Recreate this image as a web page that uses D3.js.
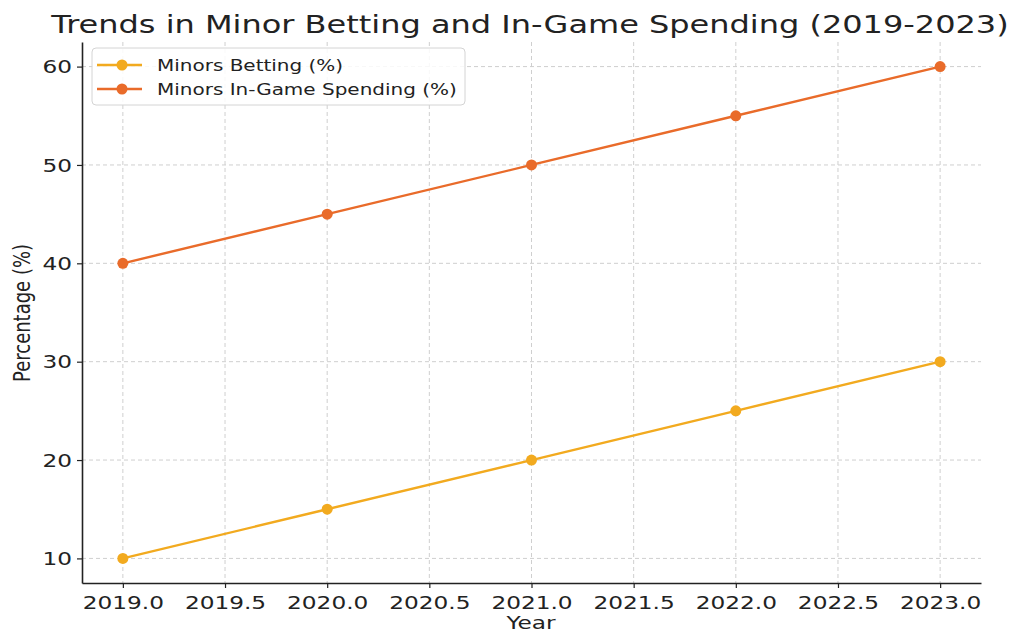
<!DOCTYPE html>
<html>
<head>
<meta charset="utf-8">
<script src="https://cdn.jsdelivr.net/npm/d3@7"></script>
<style>
  body { margin: 0; background: #fff; }
  text { font-family: "DejaVu Sans", sans-serif; fill: #222; }
</style>
</head>
<body>
<div id="chart"></div>
<script>
// data
const years = [2019, 2020, 2021, 2022, 2023]
const bettingPct = [10, 15, 20, 25, 30]
const spendingPct = [40, 45, 50, 55, 60]
const xTicks = [2019.0, 2019.5, 2020.0, 2020.5, 2021.0, 2021.5, 2022.0, 2022.5, 2023.0]
const yTicks = [10, 20, 30, 40, 50, 60]
const seriesNames = ["Minors Betting (%)", "Minors In-Game Spending (%)"]
const seriesColors = ["#f2aa1f", "#e96b2a"]

// picture looks stretched sideways, so text gets the same stretch
const sx = 1.29

const W = 1015, H = 633
const plot = { left: 82, right: 981, top: 42, bottom: 583 }

const svg = d3.select("#chart").append("svg")
  .attr("width", W).attr("height", H)

const xScale = d3.scaleLinear().domain([2018.8, 2023.2]).range([plot.left, plot.right])
const yScale = d3.scaleLinear().domain([7.5, 62.5]).range([plot.bottom, plot.top])

// grid
svg.append("g").selectAll("line").data(xTicks).join("line")
  .attr("x1", d => xScale(d)).attr("x2", d => xScale(d))
  .attr("y1", plot.top).attr("y2", plot.bottom)
  .attr("stroke", "#cfcfcf").attr("stroke-width", 1).attr("stroke-dasharray", "4,3")
svg.append("g").selectAll("line").data(yTicks).join("line")
  .attr("x1", plot.left).attr("x2", plot.right)
  .attr("y1", d => yScale(d)).attr("y2", d => yScale(d))
  .attr("stroke", "#cfcfcf").attr("stroke-width", 1).attr("stroke-dasharray", "4,3")

// axes: only left and bottom spines
const xAxis = svg.append("g")
  .attr("transform", "translate(0," + plot.bottom + ")")
  .call(d3.axisBottom(xScale).tickValues(xTicks).tickFormat(d3.format(".1f")).tickSize(5).tickSizeOuter(0))
const yAxis = svg.append("g")
  .attr("transform", "translate(" + plot.left + ",0)")
  .call(d3.axisLeft(yScale).tickValues(yTicks).tickSize(5).tickSizeOuter(0))

;[xAxis, yAxis].forEach(ax => {
  ax.select(".domain").attr("stroke", "#222").attr("stroke-width", 1.6)
  ax.selectAll(".tick line").attr("stroke", "#222").attr("stroke-width", 1.2)
  ax.selectAll(".tick text").attr("font-size", 18).attr("fill", "#222")
    .attr("font-family", "DejaVu Sans")
})
// stretch tick labels around their anchor
xAxis.selectAll(".tick text").attr("y", 0).attr("dy", 0)
  .attr("transform", "translate(0,26) scale(" + sx + ",1)")
yAxis.selectAll(".tick text").attr("x", 0).attr("dy", "0.35em")
  .attr("transform", "translate(-10,0) scale(" + sx + ",1)")

// lines and markers
const series = [bettingPct, spendingPct]
const line = d3.line().x((d, i) => xScale(years[i])).y(d => yScale(d))
series.forEach((vals, k) => {
  svg.append("path").datum(vals)
    .attr("d", line).attr("fill", "none")
    .attr("stroke", seriesColors[k]).attr("stroke-width", 2.4)
  svg.append("g").selectAll("circle").data(vals).join("circle")
    .attr("cx", (d, i) => xScale(years[i])).attr("cy", d => yScale(d))
    .attr("r", 5.5).attr("fill", seriesColors[k])
})

// titles
svg.append("text")
  .attr("transform", "translate(530,33) scale(" + sx + ",1)")
  .attr("text-anchor", "middle").attr("font-size", 24.8).attr("fill", "#333")
  .text("Trends in Minor Betting and In-Game Spending (2019-2023)")

svg.append("text")
  .attr("transform", "translate(531,629) scale(" + sx + ",1)")
  .attr("text-anchor", "middle").attr("font-size", 18)
  .text("Year")

svg.append("text")
  .attr("transform", "translate(30,313) scale(" + sx + ",1) rotate(-90)")
  .attr("text-anchor", "middle").attr("font-size", 18)
  .text("Percentage (%)")

// legend
const legend = svg.append("g").attr("transform", "translate(92,48)")
legend.append("rect")
  .attr("width", 373).attr("height", 57).attr("rx", 4)
  .attr("fill", "#fff").attr("fill-opacity", 0.85)
  .attr("stroke", "#d4d4d4").attr("stroke-width", 1)
seriesNames.forEach((name, k) => {
  const y = 17 + k * 24
  legend.append("line").attr("x1", 5).attr("x2", 50).attr("y1", y).attr("y2", y)
    .attr("stroke", seriesColors[k]).attr("stroke-width", 2.4)
  legend.append("circle").attr("cx", 30).attr("cy", y).attr("r", 5.5).attr("fill", seriesColors[k])
  legend.append("text")
    .attr("transform", "translate(65," + (y + 5.5) + ") scale(" + sx + ",1)")
    .attr("font-size", 15.5).attr("fill", "#333")
    .text(name)
})
</script>
</body>
</html>
